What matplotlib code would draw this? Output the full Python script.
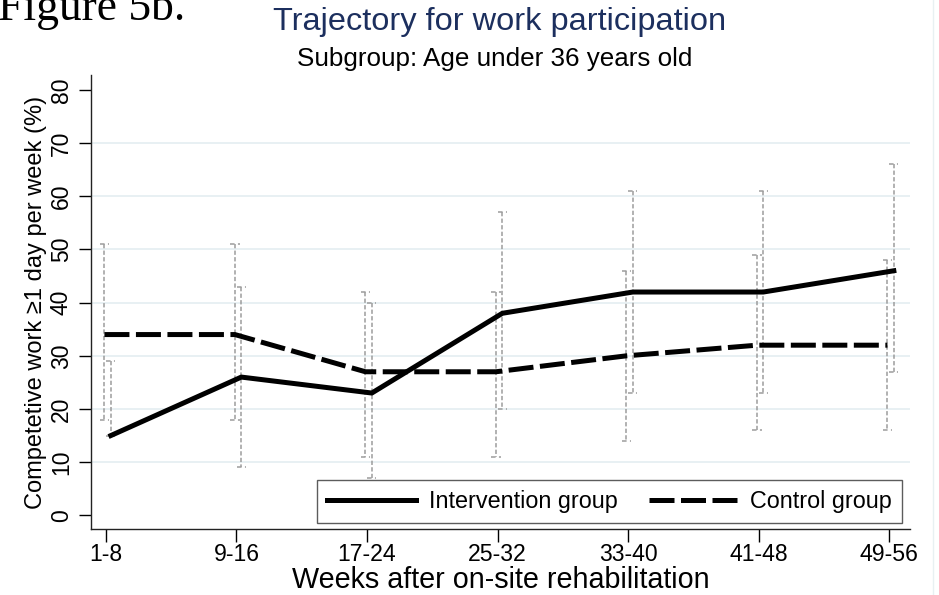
import matplotlib
matplotlib.use('Agg')
import matplotlib.pyplot as plt
from matplotlib.lines import Line2D
import numpy as np

plt.rcParams['font.family'] = ['Liberation Sans', 'DejaVu Sans']

# data
periods = ['1-8', '9-16', '17-24', '25-32', '33-40', '41-48', '49-56']
intervention = [15, 26, 23, 38, 42, 42, 46]
intervention_lo = [15, 9, 7, 20, 23, 23, 27]
intervention_hi = [29, 43, 40, 57, 61, 61, 66]
control = [34, 34, 27, 27, 30, 32, 32]
control_lo = [18, 18, 11, 11, 14, 16, 16]
control_hi = [51, 51, 42, 42, 46, 49, 48]
yticks = [0, 10, 20, 30, 40, 50, 60, 70, 80]

W, H = 939, 595
fig = plt.figure(figsize=(W / 100, H / 100), dpi=100)
fig.patch.set_facecolor('white')

# plot region in pixels
left, right, top, bottom = 91, 910, 75, 529
ax = fig.add_axes([left / W, 1 - bottom / H, (right - left) / W, (bottom - top) / H])

x = np.arange(1, len(periods) + 1)
x_ctrl = x - 0.012
x_int = x + 0.037

# confidence interval brackets (dashed grey)
ci_color = '#9c9c9c'
cap = 0.035
for xs, lo, hi in [(x_ctrl, control_lo, control_hi), (x_int, intervention_lo, intervention_hi)]:
    for xx, l, h in zip(xs, lo, hi):
        ax.plot([xx, xx], [h, l], color=ci_color, lw=1.1, dashes=(2.8, 1.5), zorder=2)
        ax.plot([xx - cap, xx + cap], [h, h], color=ci_color, lw=1.1, dashes=(3.0, 2.2), zorder=2)
        ax.plot([xx - cap, xx + cap], [l, l], color=ci_color, lw=1.1, dashes=(3.0, 2.2), zorder=2)

ax.plot(x_int, intervention, color='black', lw=3.6, zorder=3, label='Intervention group')
ax.plot(x_ctrl, control, color='black', lw=3.6, dashes=(5.0, 1.3), zorder=3, label='Control group')

# axes limits matching the pixel geometry
ax.set_xlim(1 - (106 - left) / 130.5, 7 + (right - 889) / 130.5)
ax.set_ylim((515.3 - bottom) / 5.316, (515.3 - top) / 5.316)

ax.set_yticks(yticks)
ax.set_yticklabels([str(v) for v in yticks], rotation=90, va='center')
ax.set_xticks(x)
ax.set_xticklabels(periods)
ax.tick_params(axis='y', length=9, width=1, labelsize=16.5, pad=4)
ax.tick_params(axis='x', length=9, width=1, labelsize=16.6, pad=1)

ax.grid(axis='y', color='#e6eff2', lw=1.3, zorder=0)
ax.set_axisbelow(True)
gl = ax.get_ygridlines()
gl[0].set_visible(False)
gl[-1].set_visible(False)

for s in ['top', 'right']:
    ax.spines[s].set_visible(False)
for s in ['left', 'bottom']:
    ax.spines[s].set_linewidth(1.0)
    ax.spines[s].set_color('#222222')

ax.set_ylabel('Competetive work \u22651 day per week (%)', fontsize=17, labelpad=2)
ax.set_xlabel('Weeks after on-site rehabilitation', fontsize=20.7, labelpad=0)

leg = ax.legend(ncol=2, loc='lower right', bbox_to_anchor=(902 / W, 1 - 523 / H),
                bbox_transform=fig.transFigure, fontsize=16.8, frameon=True, fancybox=False,
                handlelength=3.8, handletextpad=0.56, columnspacing=1.33, borderpad=0.42,
                borderaxespad=0)
leg.get_frame().set_edgecolor('#333333')
leg.get_frame().set_linewidth(1.0)

# titles
fig.text(500 / W, 1 - 22 / H, 'Trajectory for work participation', ha='center', va='center',
         fontsize=23.4, color='#1c2f5e')
fig.text(495 / W, 1 - 59 / H, 'Subgroup: Age under 36 years old', ha='center', va='center',
         fontsize=18.7, color='black')

# document caption cut off at the top
fig.text(-0.002, 1 - 20 / H, 'Figure 5b.', ha='left', va='baseline', fontsize=32.8,
         family=['Liberation Serif', 'DejaVu Serif'], color='black')

# faint outline of the graph region
fig.add_artist(Line2D([933 / W, 933 / W], [0, 1], transform=fig.transFigure, color='#e8f0f2', lw=1))

fig.savefig('out.png', dpi=100)
